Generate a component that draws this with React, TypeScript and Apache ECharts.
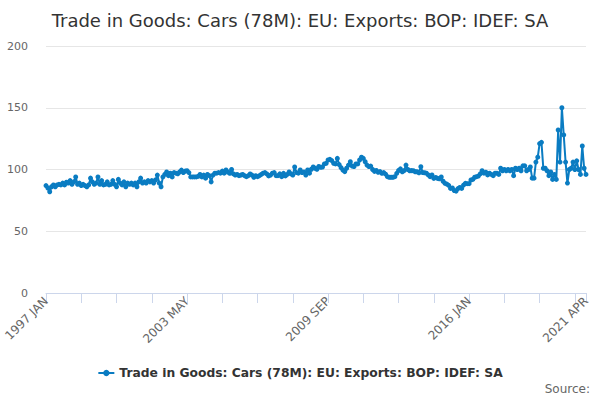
import React, { useEffect, useRef } from "react";
import * as echarts from "echarts";

const TITLE = "Trade in Goods: Cars (78M): EU: Exports: BOP: IDEF: SA";
const SERIES_NAME = "Trade in Goods: Cars (78M): EU: Exports: BOP: IDEF: SA";
const MONTHS = ["JAN", "FEB", "MAR", "APR", "MAY", "JUN", "JUL", "AUG", "SEP", "OCT", "NOV", "DEC"];
const START_YEAR = 1997;

const v1997 = [87, 85, 82, 86, 87.5, 86, 87.5, 88, 87.5, 89, 87.5, 89.7];
const v1998 = [89, 91, 88, 90, 94, 88, 89, 87, 88, 87, 86, 87.5];
const v1999 = [93, 90, 88, 89, 94, 88, 91, 87.5, 88, 90, 87.5, 88];
const v2000 = [91, 88, 86, 92, 89, 87.5, 90, 86, 89, 88, 89, 87.5];
const v2001 = [89, 86, 90, 93, 89, 90, 89, 91, 90, 91, 89, 91.5];
const v2002 = [95.5, 89, 86, 94, 96, 98, 95, 97, 94, 97.5, 97, 96.5];
const v2003 = [98, 99.5, 97.5, 98.7, 99, 97.5, 94, 94, 94, 94, 94.5, 96];
const v2004 = [94, 95.5, 93, 96, 95, 90, 95.5, 97, 97, 97.5, 97, 98.7];
const v2005 = [97, 99.6, 98, 96.9, 100, 96.4, 95.5, 96, 95, 95.5, 96, 95];
const v2006 = [94.2, 95, 96.4, 95.5, 93.7, 95, 94.2, 95, 96, 97, 97.5, 96.4];
const v2007 = [94.8, 95.5, 97, 97.5, 95, 95, 96.5, 94.2, 96.9, 94.8, 96, 98];
const v2008 = [96.5, 95.5, 102, 97.5, 97, 99.6, 97.5, 98, 95.5, 99.6, 97, 100.2];
const v2009 = [102, 101, 100.2, 102.4, 101.8, 102, 104.5, 105, 107.7, 108.2, 107.2, 105];
const v2010 = [104.5, 109, 104, 101.5, 99.5, 98.3, 101, 103.6, 106.3, 102.8, 102.4, 104.5];
const v2011 = [104.5, 107.7, 109.9, 109, 106.3, 103.6, 102.4, 102.8, 100, 98.5, 99.2, 97.8];
const v2012 = [98.3, 96.9, 97.5, 96.2, 94.2, 93.7, 93.7, 93.7, 94.2, 96.9, 99.2, 100.5];
const v2013 = [98.2, 99.1, 103.6, 100, 99, 99.1, 99, 98.2, 98.2, 97.4, 102.3, 97.5];
const v2014 = [97.4, 97, 95.6, 94.2, 95.6, 92.8, 93.5, 92.8, 92.5, 94, 90.5, 88.8];
const v2015 = [88.2, 87.2, 84.7, 85, 83, 82.5, 84.5, 85.5, 84.7, 87.4, 88.8, 88.5];
const v2016 = [88.5, 91.5, 92, 93.7, 94.2, 94.7, 96.5, 99, 97, 97.8, 95.6, 97];
const v2017 = [96, 95, 97, 97, 96, 101, 99, 100, 99, 100, 99, 100];
const v2018 = [95, 101, 100, 101, 99, 103, 103, 99, 100, 102, 93, 93];
const v2019 = [106, 110, 121, 122, 101, 101, 99, 95, 98, 92, 96, 92];
const v2020 = [132, 106, 150, 128, 106, 89, 100, 101, 106, 100, 107, 100];
const v2021 = [96, 119, 101, 96];

const YEARS = [
  v1997, v1998, v1999, v2000, v2001, v2002, v2003, v2004, v2005, v2006, v2007, v2008,
  v2009, v2010, v2011, v2012, v2013, v2014, v2015, v2016, v2017, v2018, v2019, v2020, v2021,
];

const categories: string[] = [];
const values: number[] = [];
YEARS.forEach((arr, yi) => {
  arr.forEach((v, mi) => {
    categories.push(`${START_YEAR + yi} ${MONTHS[mi]}`);
    values.push(v);
  });
});

const LABEL_STEP = 76;
const TICK_STEP = 19;

export default function App() {
  const ref = useRef<HTMLDivElement>(null);
  useEffect(() => {
    if (!ref.current) return;
    const chart = echarts.init(ref.current, null, { renderer: "svg" });
    const last = categories.length - 1;
    chart.setOption({
      animation: false,
      backgroundColor: "#ffffff",
      textStyle: { fontFamily: "DejaVu Sans" },
      title: {
        text: TITLE,
        left: "center",
        top: 6,
        textStyle: { fontSize: 18, fontWeight: "normal", color: "#333333", fontFamily: "DejaVu Sans" },
      },
      grid: { left: 46, right: 14, top: 46, bottom: 107, containLabel: false },
      legend: {
        bottom: 16,
        left: "center",
        itemWidth: 16,
        itemHeight: 8,
        textStyle: { fontSize: 12.3, fontWeight: "bold", color: "#333333", fontFamily: "DejaVu Sans" },
        data: [SERIES_NAME],
      },
      xAxis: {
        type: "category",
        data: categories,
        boundaryGap: false,
        axisLine: { lineStyle: { color: "#ccd6eb" } },
        axisTick: {
          show: true,
          length: 10,
          lineStyle: { color: "#ccd6eb" },
          interval: (i: number) => i % TICK_STEP === 0 || i === last,
        },
        axisLabel: {
          rotate: 45,
          color: "#666666",
          fontSize: 12,
          margin: 6,
          interval: (i: number) => i % LABEL_STEP === 0 || i === last,
        },
        splitLine: { show: false },
      },
      yAxis: {
        type: "value",
        min: 0,
        max: 200,
        interval: 50,
        axisLine: { show: false },
        axisTick: { show: false },
        axisLabel: { color: "#666666", fontSize: 11, margin: 18 },
        splitLine: { lineStyle: { color: "#e6e6e6" } },
      },
      series: [
        {
          name: SERIES_NAME,
          type: "line",
          data: values,
          color: "#0a7cc2",
          lineStyle: { width: 2, color: "#0a7cc2" },
          itemStyle: { color: "#0a7cc2" },
          symbol: "circle",
          symbolSize: 5,
          showSymbol: true,
          showAllSymbol: true,
        },
      ],
      graphic: [
        {
          type: "text",
          right: 10,
          top: 383,
          style: { text: "Source:", fill: "#666666", fontSize: 12, fontFamily: "DejaVu Sans" },
        },
      ],
    });
    return () => chart.dispose();
  }, []);
  return <div ref={ref} style={{ position: "fixed", left: 0, top: 0, width: 600, height: 400 }} />;
}
